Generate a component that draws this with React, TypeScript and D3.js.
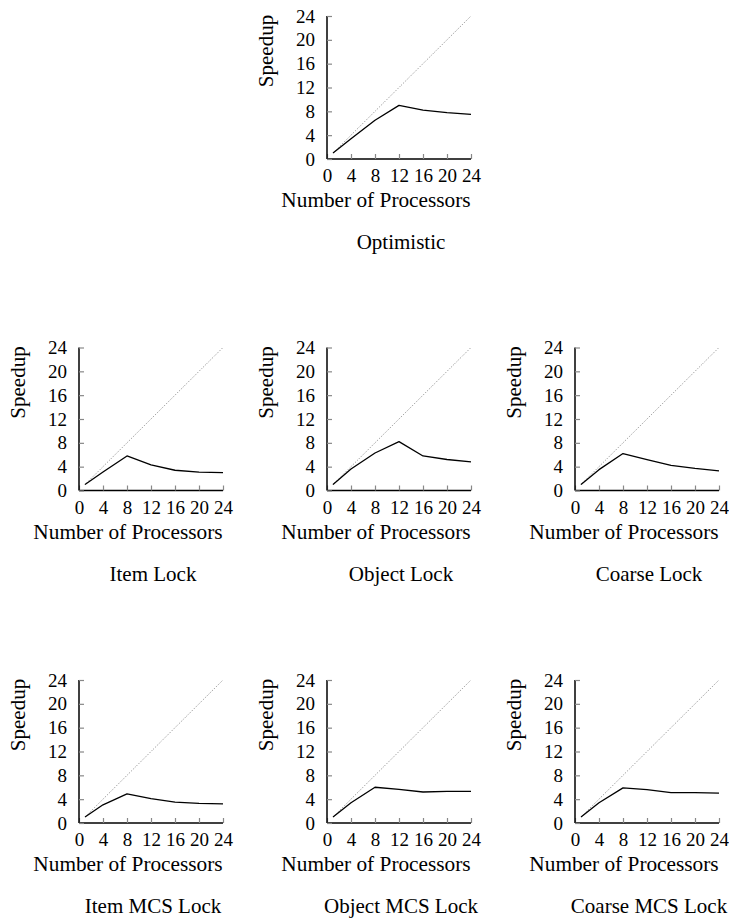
import { useEffect, useRef } from "react";
import * as d3 from "d3";

const PROCS = [1, 4, 8, 12, 16, 20, 24];
const TICKS = [0, 4, 8, 12, 16, 20, 24];
const IDEAL = [1, 24];

const OPTIMISTIC = [1, 3.4, 6.5, 9.0, 8.2, 7.8, 7.5];
const ITEM_LOCK = [1, 3.1, 5.8, 4.3, 3.4, 3.1, 3.0];
const OBJECT_LOCK = [1, 3.6, 6.3, 8.2, 5.8, 5.2, 4.8];
const COARSE_LOCK = [1, 3.5, 6.2, 5.2, 4.2, 3.7, 3.3];
const ITEM_MCS = [1, 3.05, 4.9, 4.1, 3.5, 3.3, 3.2];
const OBJECT_MCS = [1, 3.4, 6.0, 5.65, 5.2, 5.3, 5.3];
const COARSE_MCS = [1, 3.4, 5.9, 5.6, 5.1, 5.1, 5.0];

// row / col are grid slots; values are speedups per PROCS entry
const PANELS = [
  { title: "Optimistic", values: OPTIMISTIC, row: 0, col: 1 },
  { title: "Item Lock", values: ITEM_LOCK, row: 1, col: 0 },
  { title: "Object Lock", values: OBJECT_LOCK, row: 1, col: 1 },
  { title: "Coarse Lock", values: COARSE_LOCK, row: 1, col: 2 },
  { title: "Item MCS Lock", values: ITEM_MCS, row: 2, col: 0 },
  { title: "Object MCS Lock", values: OBJECT_MCS, row: 2, col: 1 },
  { title: "Coarse MCS Lock", values: COARSE_MCS, row: 2, col: 2 },
];

const W = 729;
const H = 923;
const FONT = "'Liberation Serif', 'DejaVu Serif', serif";

export default function App() {
  const svgRef = useRef<SVGSVGElement | null>(null);

  useEffect(() => {
    if (!svgRef.current) return;
    const svg = d3.select(svgRef.current);
    svg.selectAll("*").remove();

    const pw = 144;
    const ph = 143;
    const colX = [79, 327, 575];
    const rowY = [16, 347.5, 680];

    const x = d3.scaleLinear().domain([0, 24]).range([0, pw]);
    const y = d3.scaleLinear().domain([0, 24]).range([ph, 0]);

    const line = d3
      .line<[number, number]>()
      .x((d) => x(d[0]))
      .y((d) => y(d[1]));

    PANELS.forEach((p) => {
      const g = svg
        .append("g")
        .attr("transform", `translate(${colX[p.col]},${rowY[p.row]})`);

      // ideal speedup
      g.append("path")
        .datum(IDEAL.map((v) => [v, v] as [number, number]))
        .attr("d", line)
        .attr("fill", "none")
        .attr("stroke", "#777")
        .attr("stroke-width", 0.9)
        .attr("stroke-dasharray", "1,1.6");

      g.append("path")
        .datum(PROCS.map((n, i) => [n, p.values[i]] as [number, number]))
        .attr("d", line)
        .attr("fill", "none")
        .attr("stroke", "#000")
        .attr("stroke-width", 1.3)
        .attr("stroke-linejoin", "round");

      // x axis, ticks pointing inward
      g.append("g")
        .attr("transform", `translate(0,${ph})`)
        .call(d3.axisBottom(x).tickValues(TICKS).tickSize(-5).tickPadding(10))
        .call((ax) => ax.select(".domain").attr("stroke", "#000").attr("stroke-width", 1.5).attr("d", `M0,0H${pw}`))
        .call((ax) => ax.selectAll(".tick line").attr("stroke", "#888").attr("stroke-width", 1.2))
        .call((ax) =>
          ax.selectAll("text").attr("font-size", 19).attr("font-family", FONT).attr("fill", "#000")
        );

      // y axis
      g.append("g")
        .call(d3.axisLeft(y).tickValues(TICKS).tickSize(-5).tickPadding(12))
        .call((ax) => ax.select(".domain").attr("stroke", "#000").attr("stroke-width", 1.5).attr("d", `M0,${ph}V0`))
        .call((ax) => ax.selectAll(".tick line").attr("stroke", "#888").attr("stroke-width", 1.2))
        .call((ax) =>
          ax.selectAll("text").attr("font-size", 19).attr("font-family", FONT).attr("fill", "#000")
        );

      g.append("text")
        .attr("transform", `translate(-54,35) rotate(-90)`)
        .attr("text-anchor", "middle")
        .attr("font-size", 21)
        .attr("font-family", FONT)
        .text("Speedup");

      g.append("text")
        .attr("x", 49)
        .attr("y", ph + 48)
        .attr("text-anchor", "middle")
        .attr("font-size", 21.3)
        .attr("font-family", FONT)
        .text("Number of Processors");

      g.append("text")
        .attr("x", pw / 2 + 2)
        .attr("y", ph + 90)
        .attr("text-anchor", "middle")
        .attr("font-size", 21)
        .attr("font-family", FONT)
        .text(p.title);
    });
  }, []);

  return (
    <svg
      ref={svgRef}
      width={W}
      height={H}
      style={{ position: "absolute", left: 0, top: 0, background: "#fff" }}
    />
  );
}
